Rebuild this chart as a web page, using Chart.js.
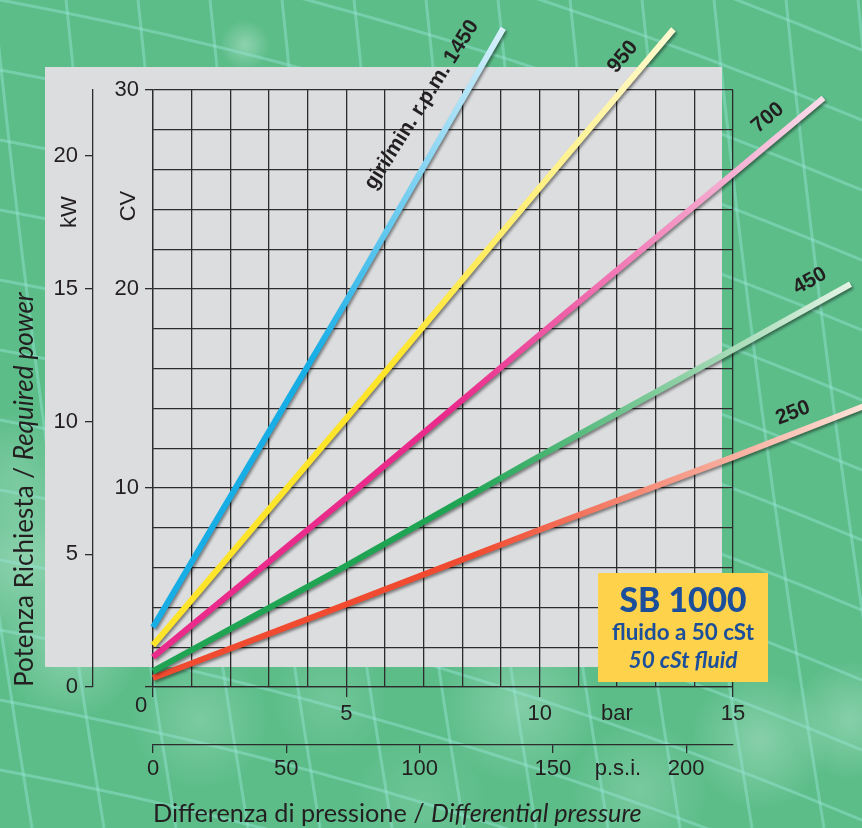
<!DOCTYPE html>
<html>
<head>
<meta charset="utf-8">
<script src="https://cdn.jsdelivr.net/npm/chart.js@4.4.0/dist/chart.umd.min.js"></script>
<style>
html,body{margin:0;padding:0;background:#5cbd89;}
canvas{display:block;}
</style>
</head>
<body>
<canvas id="c" width="862" height="828"></canvas>
<script>
// ---------- DATA ----------
const rpmLabels = ['1450', '950', '700', '450', '250'];
const bar1450 = [0, 5, 9.06];
const cv1450  = [3.0, 19.4, 33.1];
const bar950  = [0, 5, 10, 13.46];
const cv950   = [2.1, 13.5, 25.1, 33.05];
const bar700  = [0, 5, 10, 15, 17.34];
const cv700   = [1.5, 9.5, 17.7, 25.8, 29.6];
const bar450  = [0, 5, 10, 15, 18.04];
const cv450   = [0.8, 6.1, 11.6, 16.95, 20.25];
const bar250  = [0, 5, 10, 15, 18.5];
const cv250   = [0.45, 4.15, 7.9, 11.55, 14.2];

const barGridTicks   = [0,1,2,3,4,5,6,7,8,9,10,11,12,13,14,15];
const barMajorTicks  = [0, 5, 10, 15];
const barLabelValues = [5, 10, 12, 15];
const barLabelTexts  = ['5', '10', 'bar', '15'];
const psiTickValues  = [0, 50, 100, 150, 200, 174.4];
const psiTickTexts   = ['0', '50', '100', '150', '200', 'p.s.i.'];
const cvGridTicks    = [0,2,4,6,8,10,12,14,16,18,20,22,24,26,28,30];
const cvMajorTicks   = [0, 10, 20, 30];
const cvLabelValues  = [10, 20, 30];
const kwTicks        = [0, 5, 10, 15, 20];
const BAR_MAX = 15, CV_MAX = 30, KW_MAX = 22.49, PSI_MAX = 15 * 14.5038;

// ---------- STYLE ----------
const W = 862, H = 828;
const TXT = '#231f20';
const GRID = '#2c2c2c';
const NUMFONT = '"Liberation Sans", Arial, sans-serif';
const TFONT = 'Lato, "Noto Sans", sans-serif';
const colStart = ['#17aee6', '#ffe52a', '#ea2b8b', '#1fa454', '#f04b30'];
const colEnd   = ['#d8f0fb', '#fffad2', '#f9dcea', '#e4f3e4', '#fce4da'];
// label anchors (bar, CV) for the rpm annotations
const lblText = ['giri/min. r.p.m. 1450', '950', '700', '450', '250'];
const lblBar  = [6.95, 12.15, 15.9, 16.99, 16.55];
const lblCv   = [29.25, 31.66, 28.6, 20.4, 13.77];

const barSets = [bar1450, bar950, bar700, bar450, bar250];
const cvSets  = [cv1450, cv950, cv700, cv450, cv250];

function gradFor(i) {
  return (ctx) => {
    const chart = ctx.chart;
    if (!chart.chartArea || !chart.scales.x) return colStart[i];
    const xs = chart.scales.x, ys = chart.scales.y;
    const b = barSets[i], v = cvSets[i], n = b.length - 1;
    const g = chart.ctx.createLinearGradient(
      xs.getPixelForValue(b[0]), ys.getPixelForValue(v[0]),
      xs.getPixelForValue(b[n]), ys.getPixelForValue(v[n]));
    g.addColorStop(0, colStart[i]);
    g.addColorStop(0.45, colStart[i]);
    g.addColorStop(1, colEnd[i]);
    return g;
  };
}

const datasets = rpmLabels.map((l, i) => ({
  label: l,
  data: barSets[i].map((b, j) => ({ x: b, y: cvSets[i][j] })),
  showLine: true,
  borderWidth: 6,
  borderColor: gradFor(i),
  borderCapStyle: 'butt',
  pointRadius: 0,
  tension: 0,
  fill: false,
  clip: false
}));

function fitFont(c, parts, target, weight) {
  let w = 0;
  parts.forEach(p => { c.font = `${p.style||''} ${weight||''} 100px ${TFONT}`; w += c.measureText(p.t).width; });
  return 100 * target / w;
}
function drawParts(c, parts, size, weight, x, y) {
  let cx = x;
  parts.forEach(p => {
    c.font = `${p.style||''} ${weight||''} ${size}px ${TFONT}`;
    c.fillText(p.t, cx, y);
    cx += c.measureText(p.t).width;
  });
}

const bgPlugin = {
  id: 'bg',
  beforeDraw(chart) {
    const c = chart.ctx;
    const a = chart.chartArea;
    c.save();
    c.fillStyle = '#5cbd89';
    c.fillRect(0, 0, W, H);
    const clouds = [[25,560,95,0.35],[70,650,70,0.3],[15,470,60,0.2],[200,720,70,0.22],[330,700,60,0.15],
      [520,705,80,0.28],[640,790,70,0.2],[760,740,70,0.3],[850,720,60,0.3],[420,800,70,0.12],[245,45,25,0.35]];
    clouds.forEach(([x,y,r,al]) => {
      const g = c.createRadialGradient(x,y,0,x,y,r);
      g.addColorStop(0, `rgba(235,250,245,${al})`);
      g.addColorStop(1, 'rgba(235,250,245,0)');
      c.fillStyle = g;
      c.beginPath(); c.arc(x,y,r,0,Math.PI*2); c.fill();
    });
    c.strokeStyle = 'rgba(150,228,212,0.45)';
    c.lineWidth = 3;
    for (let x0 = -150; x0 < 950; x0 += 72) {
      c.beginPath(); c.moveTo(x0, 0); c.quadraticCurveTo(x0 + 40, 400, x0 + 110, 828); c.stroke();
    }
    for (let y0 = -420; y0 < 828; y0 += 70) {
      c.beginPath(); c.moveTo(0, y0); c.quadraticCurveTo(430, y0 + 80, 862, y0 + 260); c.stroke();
    }
    c.fillStyle = '#dcdddf';
    c.fillRect(a.left - 108, a.top - 23, (a.right - 11) - (a.left - 108), (a.bottom - 20) - (a.top - 23));
    c.restore();
  }
};

const shadowPlugin = {
  id: 'shadow',
  beforeDatasetDraw(chart) {
    const c = chart.ctx; c.save();
    c.shadowColor = 'rgba(0,0,0,0.45)'; c.shadowBlur = 3; c.shadowOffsetX = 1.5; c.shadowOffsetY = 2;
  },
  afterDatasetDraw(chart) { chart.ctx.restore(); }
};

const textPlugin = {
  id: 'texts',
  afterDatasetsDraw(chart) {
    const c = chart.ctx;
    const xs = chart.scales.x, ys = chart.scales.y, a = chart.chartArea;
    c.save();
    c.fillStyle = TXT;
    lblText.forEach((t, i) => {
      const b = barSets[i], v = cvSets[i], n = b.length - 1;
      const dx = xs.getPixelForValue(b[n]) - xs.getPixelForValue(b[0]);
      const dy = ys.getPixelForValue(v[n]) - ys.getPixelForValue(v[0]);
      let ang = Math.atan2(dy, dx);
      if (i === 0) ang += 0.035;
      c.save();
      c.translate(xs.getPixelForValue(lblBar[i]), ys.getPixelForValue(lblCv[i]));
      c.rotate(ang);
      c.font = `bold 21px ${NUMFONT}`;
      c.textAlign = 'center'; c.textBaseline = 'middle';
      c.fillText(t, 0, 0);
      c.restore();
    });
    c.font = `22px ${NUMFONT}`;
    c.textAlign = 'center'; c.textBaseline = 'middle';
    c.fillText('0', a.left - 12, a.bottom + 19);
    [['kW', 70, 212], ['CV', 129, 206]].forEach(([t, x, y]) => {
      c.save(); c.translate(x, y); c.rotate(-Math.PI / 2);
      c.textAlign = 'center'; c.textBaseline = 'middle';
      c.font = `22px ${NUMFONT}`;
      c.fillText(t, 0, 0); c.restore();
    });
    c.textAlign = 'left'; c.textBaseline = 'alphabetic';
    const xp = [{t: 'Differenza di pressione / '}, {t: 'Differential pressure', style: 'italic'}];
    const xsz = fitFont(c, xp, 489, '');
    drawParts(c, xp, xsz, '', a.left, 822);
    const yp = [{t: 'Potenza Richiesta / '}, {t: 'Required power', style: 'italic'}];
    const ysz = fitFont(c, yp, 395, '');
    c.save(); c.translate(33, a.bottom); c.rotate(-Math.PI / 2);
    drawParts(c, yp, ysz, '', 0, 0);
    c.restore();
    c.fillStyle = '#ffd24b';
    c.fillRect(598, 573, 170, 109);
    c.fillStyle = '#1b4f9b';
    c.textAlign = 'center';
    const lines = [['SB 1000', '', 127, 611.5, '900'], ['fluido a 50 cSt', '', 142, 640, 'bold'], ['50 cSt fluid', 'italic', 109, 668, 'bold']];
    lines.forEach(([t, st, w, y, wt]) => {
      const sz = fitFont(c, [{t, style: st}], w, wt);
      c.font = `${st} ${wt} ${sz}px ${TFONT}`;
      c.fillText(t, 683, y);
    });
    c.restore();
  }
};

const tickFont = { family: NUMFONT, size: 22 };
const transparent = 'rgba(0,0,0,0)';

new Chart(document.getElementById('c'), {
  type: 'scatter',
  data: { datasets },
  plugins: [bgPlugin, shadowPlugin, textPlugin],
  options: {
    responsive: false,
    animation: false,
    devicePixelRatio: 1,
    layout: { padding: { left: 0, top: 90, right: 129, bottom: 33 } },
    plugins: { legend: { display: false }, tooltip: { enabled: false } },
    scales: {
      x: {
        type: 'linear', axis: 'x', position: 'bottom', weight: 0, bounds: 'data',
        afterDataLimits: s => { s.min = 0; s.max = BAR_MAX; },
        afterFit: s => { s.height = 58; },
        afterBuildTicks: s => { s.ticks = barGridTicks.map(v => ({ value: v })); s.min = 0; s.max = BAR_MAX; },
        grid: { color: GRID, lineWidth: 1.3, tickLength: 10,
          tickColor: c => barMajorTicks.includes(c.tick && c.tick.value) ? GRID : transparent },
        border: { display: true, color: GRID, width: 1.3 },
        ticks: { autoSkip: false, maxRotation: 0, padding: 4, color: TXT, font: tickFont,
          callback: v => { const k = barLabelValues.indexOf(v); return k < 0 ? '' : barLabelTexts[k]; } }
      },
      psi: {
        type: 'linear', axis: 'x', position: 'bottom', weight: 1, min: 0, max: PSI_MAX,
        afterFit: s => { s.height = 50; },
        afterBuildTicks: s => { s.ticks = psiTickValues.map(v => ({ value: v })); },
        grid: { drawOnChartArea: false, color: GRID, lineWidth: 1.3, tickLength: 8,
          tickColor: c => (c.tick && c.tick.value === 174.4) ? transparent : GRID },
        border: { display: true, color: GRID, width: 1.3 },
        ticks: { autoSkip: false, maxRotation: 0, padding: 3, color: TXT, font: tickFont,
          callback: v => { const k = psiTickValues.indexOf(v); return k < 0 ? '' : psiTickTexts[k]; } }
      },
      y: {
        type: 'linear', axis: 'y', position: 'left', weight: 0, bounds: 'data',
        afterDataLimits: s => { s.min = 0; s.max = CV_MAX; },
        afterFit: s => { s.width = 60; },
        afterBuildTicks: s => { s.ticks = cvGridTicks.map(v => ({ value: v })); s.min = 0; s.max = CV_MAX; },
        grid: { color: GRID, lineWidth: 1.3, tickLength: 8,
          tickColor: c => cvMajorTicks.includes(c.tick && c.tick.value) ? GRID : transparent },
        border: { display: true, color: GRID, width: 1.3 },
        ticks: { autoSkip: false, padding: 6, color: TXT, font: tickFont,
          callback: v => cvLabelValues.includes(v) ? String(v) : '' }
      },
      kw: {
        type: 'linear', axis: 'y', position: 'left', weight: 1, min: 0, max: KW_MAX,
        afterFit: s => { s.width = 93; },
        afterBuildTicks: s => { s.ticks = kwTicks.map(v => ({ value: v })); },
        grid: { drawOnChartArea: false, color: GRID, lineWidth: 1.3, tickLength: 8 },
        border: { display: true, color: GRID, width: 1.3 },
        ticks: { autoSkip: false, padding: 7, color: TXT, font: tickFont,
          callback: v => String(v) }
      }
    }
  }
});
</script>
</body>
</html>
